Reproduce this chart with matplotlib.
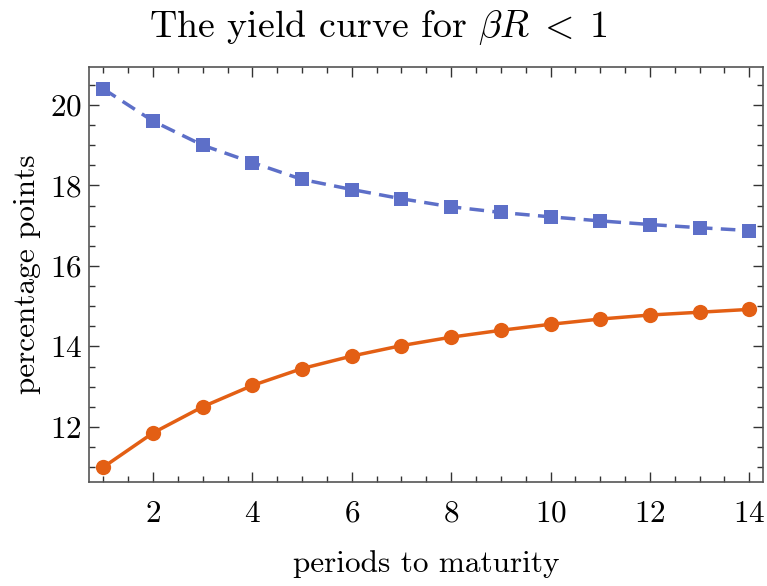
import numpy as np
import matplotlib
matplotlib.use("Agg")
import matplotlib.pyplot as plt
from matplotlib.ticker import MultipleLocator

# data

periods = list(range(1, 15))
yield_upper = [20.4, 19.6, 19.0, 18.57, 18.15, 17.9, 17.67, 17.47,
               17.33, 17.22, 17.12, 17.03, 16.95, 16.88]
yield_lower = [11.0, 11.85, 12.5, 13.03, 13.45, 13.76, 14.02, 14.23,
               14.4, 14.55, 14.68, 14.78, 14.85, 14.92]

blue = "#5d6fc8"
orange = "#e35f14"

# fonts: computer modern look
plt.rcParams['font.family'] = ['cmr10', 'DejaVu Serif']
plt.rcParams['mathtext.fontset'] = 'cm'
plt.rcParams['axes.formatter.use_mathtext'] = True

fig = plt.figure(figsize=(7.67, 5.86), dpi=100)
ax = fig.add_axes([0.116, 0.1775, 0.879, 0.7085])

# curves
ax.plot(periods, yield_upper, color=blue, linestyle=(0, (4.2, 2.4)), linewidth=2.5,
        marker='s', markersize=9.5, markeredgewidth=0, zorder=3)
ax.plot(periods, yield_lower, color=orange, linestyle='-', linewidth=2.5,
        marker='o', markersize=11, markeredgewidth=0, zorder=3)

# limits
ax.set_xlim(0.71, 14.28)
ax.set_ylim(10.63, 20.95)

# ticks
ax.xaxis.set_major_locator(MultipleLocator(2))
ax.xaxis.set_minor_locator(MultipleLocator(0.5))
ax.yaxis.set_major_locator(MultipleLocator(2))
ax.yaxis.set_minor_locator(MultipleLocator(0.5))
ax.tick_params(which='both', direction='in', top=True, right=True,
               color='#333333', width=1.0)
ax.tick_params(which='major', length=7, labelsize=22.5)
ax.tick_params(which='minor', length=4)
ax.tick_params(axis='x', which='major', pad=13)
ax.tick_params(axis='y', which='major', pad=5)

for side in ax.spines.values():
    side.set_color('#555555')
    side.set_linewidth(1.2)

# labels, title centred over the whole figure
fig.text(0.494, 0.937, r"The yield curve for $\beta R\;<\;1$", fontsize=27.3,
         ha='center', va='baseline')
ax.set_xlabel("periods to maturity", fontsize=22.5, labelpad=16)
ax.set_ylabel("percentage points", fontsize=22.5, labelpad=6)

fig.savefig("out.png", dpi=100)
